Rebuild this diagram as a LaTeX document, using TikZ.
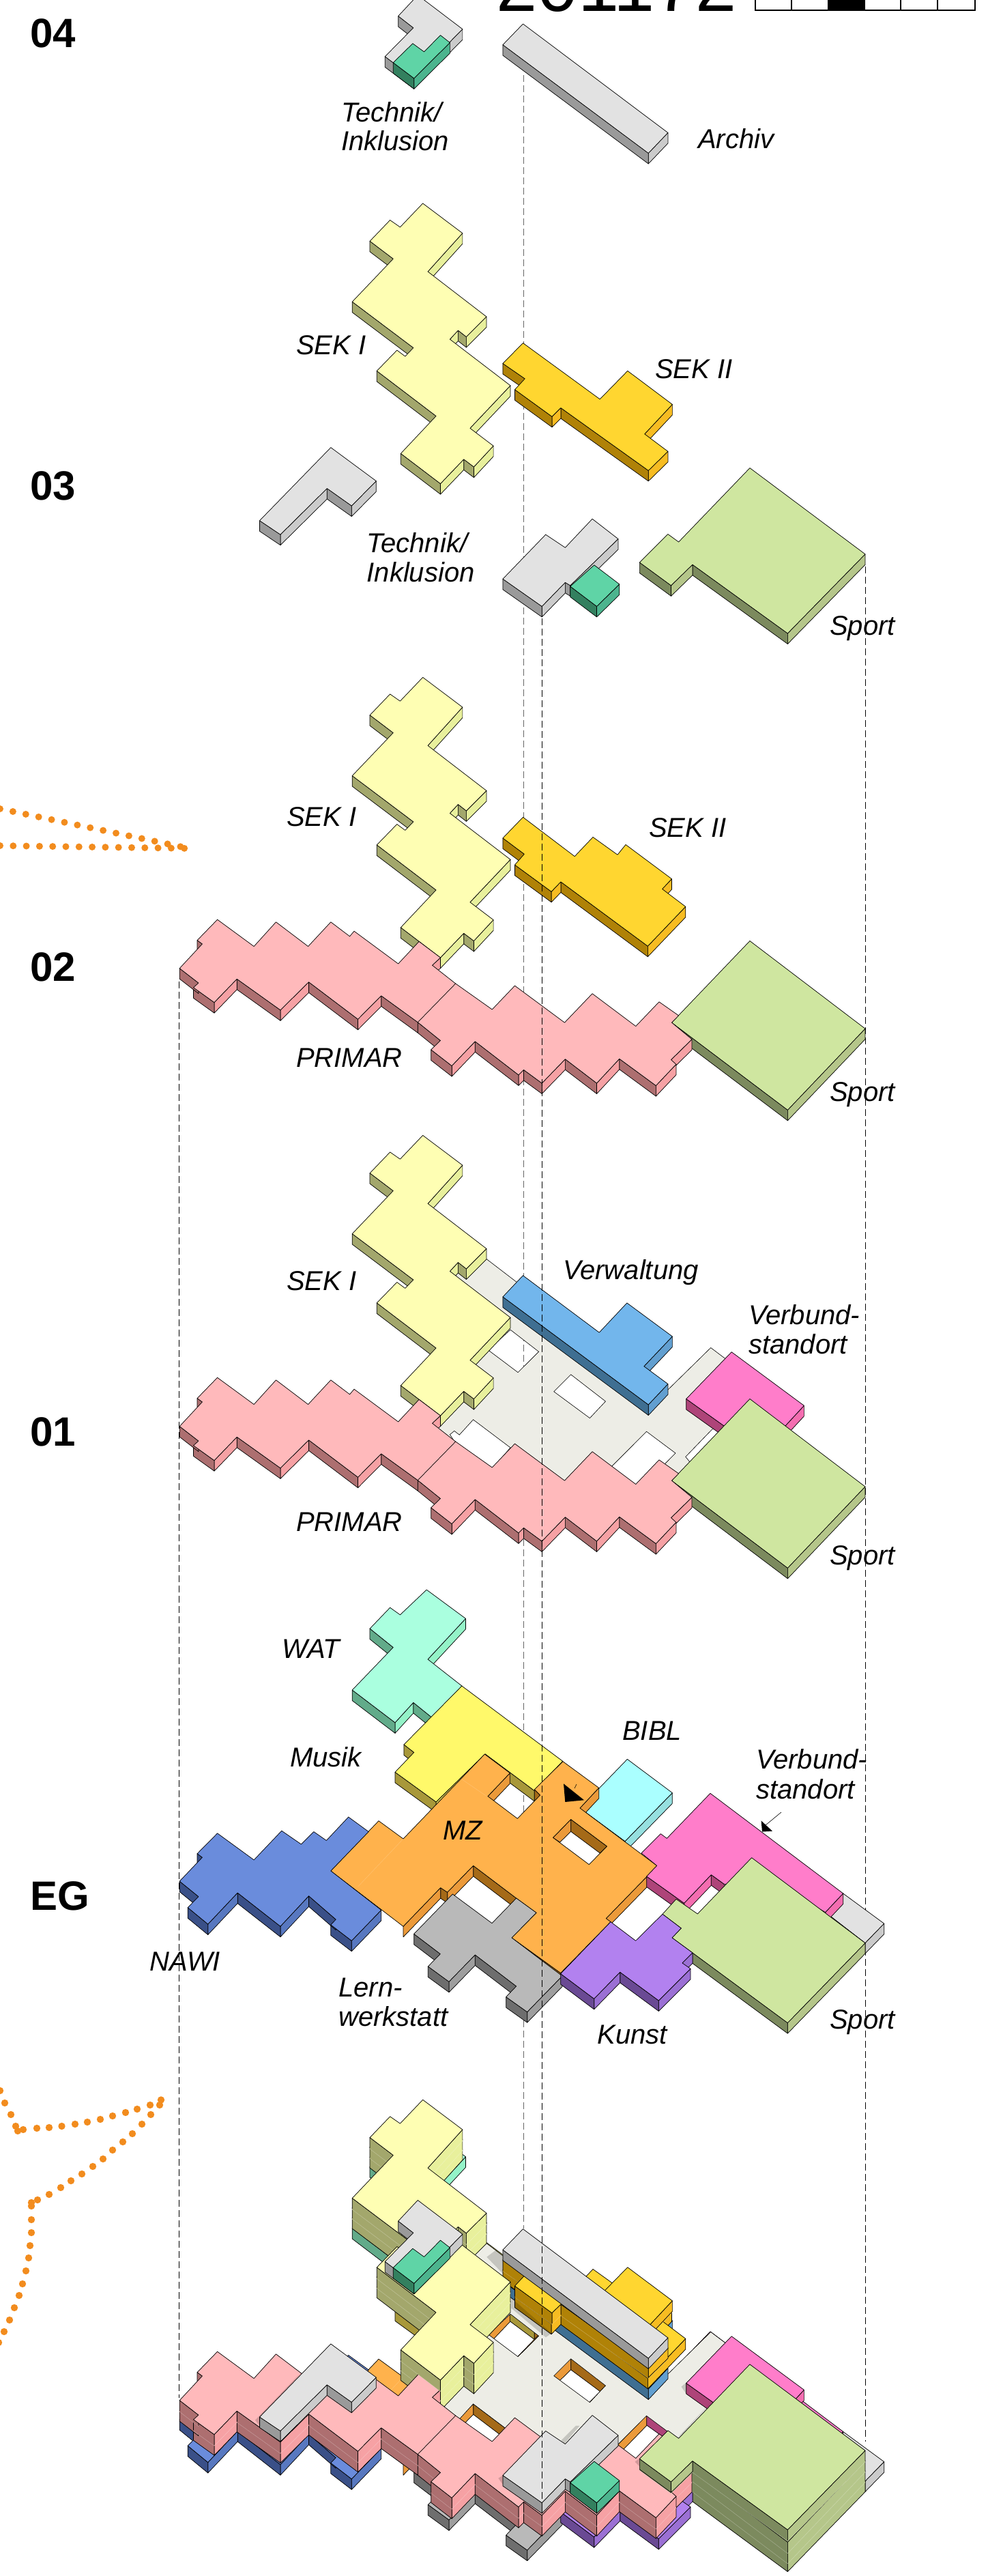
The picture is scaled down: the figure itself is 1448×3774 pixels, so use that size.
\documentclass[tikz,border=0pt]{standalone}
\usepackage{fontspec}
\setmainfont{Liberation Sans}
\definecolor{cgrey}{HTML}{E2E2E2}\definecolor{cgreyd}{HTML}{9A9A9A}\definecolor{cgreyl}{HTML}{CBCBCB}
\definecolor{cgrn}{HTML}{5FD4A6}\definecolor{cgrnd}{HTML}{33805F}\definecolor{cgrnl}{HTML}{4CB48E}
\definecolor{csek}{HTML}{FEFEB3}\definecolor{csekd}{HTML}{A3A76C}\definecolor{csekl}{HTML}{E8F09C}
\definecolor{csk}{HTML}{FFD630}\definecolor{cskd}{HTML}{B08207}\definecolor{cskl}{HTML}{F7BC22}
\definecolor{cspo}{HTML}{CFE6A0}\definecolor{cspod}{HTML}{7C8A5E}\definecolor{cspol}{HTML}{B5C68A}
\definecolor{cpri}{HTML}{FFB9BB}\definecolor{cprid}{HTML}{AD6F70}\definecolor{cpril}{HTML}{F6A1A4}
\definecolor{cver}{HTML}{72B6EC}\definecolor{cverd}{HTML}{3F6F92}\definecolor{cverl}{HTML}{629FD0}
\definecolor{cvb}{HTML}{FF7DCA}\definecolor{cvbd}{HTML}{AE4479}\definecolor{cvbl}{HTML}{F46DB0}
\definecolor{cslab}{HTML}{EDEDE6}
\definecolor{cwat}{HTML}{AAFFDF}\definecolor{cwatd}{HTML}{62AB8A}\definecolor{cwatl}{HTML}{94F3C8}
\definecolor{cmus}{HTML}{FFF96A}\definecolor{cmusd}{HTML}{A8983A}\definecolor{cmusl}{HTML}{E0D858}
\definecolor{cmz}{HTML}{FFB24C}\definecolor{cmzd}{HTML}{A56A18}\definecolor{cmzl}{HTML}{EB9A3A}
\definecolor{cbib}{HTML}{AAFFFF}\definecolor{cbibd}{HTML}{6FAFAF}\definecolor{cbibl}{HTML}{96E0E0}
\definecolor{cnaw}{HTML}{6A8CDC}\definecolor{cnawd}{HTML}{3A5088}\definecolor{cnawl}{HTML}{5878C0}
\definecolor{clrn}{HTML}{B9B9B9}\definecolor{clrnd}{HTML}{6E6E6E}\definecolor{clrnl}{HTML}{9E9E9E}
\definecolor{ckun}{HTML}{B281EF}\definecolor{ckund}{HTML}{6A4A94}\definecolor{ckunl}{HTML}{9B70D4}
\definecolor{cdot}{HTML}{F28C1E}
\def\dy{0}\def\hh{15.5}\def\hhx{16.7}\def\stk{0}
\tikzset{
 zA/.style={shift={(0pt,{(3774-#1-\dy)*1pt})},x=.9235pt,y=-.6378pt},
 zB/.style={shift={(0pt,{(3774-#1-\dy)*1pt})},x=.9235pt,y=-.4783pt},
 zC/.style={shift={(0pt,{(3774-#1-\dy)*1pt})},x=.9235pt,y=-.4464pt},
 zD/.style={shift={(0pt,{(3774-#1-\dy)*1pt})},x=.9235pt,y=-.4592pt},
 zT/.style={shift={(600pt,{(3774-2550-\dy)*1pt})},x=.33333pt,y=-.33333pt},
 bface/.style={draw=black,line width=.7pt,line join=round},
 seam/.style={draw=white,opacity=.3,line width=.5pt},
 shade/.style={fill=black,opacity=.17,draw=none},
 lab/.style={anchor=base west,inner sep=0pt,font=\fontsize{40}{44}\selectfont\itshape},
 lev/.style={anchor=base west,inner sep=0pt,font=\fontsize{60}{60}\selectfont\bfseries},
 guide/.style={draw=black,line width=.7pt,dash pattern=on 10pt off 5pt},
 guidegrey/.style={draw=black!60,line width=.6pt,dash pattern=on 10pt off 5pt},
 orangedots/.style={draw=cdot,line width=10pt,line cap=round,dash pattern=on 0pt off 19.3pt},
 dot/.style={fill=cdot,draw=none}
}
\def\grabfirst#1/#2,#3\relax{\gdef\fx{#1}\gdef\fy{#2}}
\newcommand{\wallquad}[1]{%
  \ifnum\stk=1
    \path[fill=#1] (\px,\py)--(\x,\y)--([yshift=-\hhx pt]\x,\y)--([yshift=-\hhx pt]\px,\py)--cycle;
    \path[bface] ([yshift=-\hh pt]\px,\py)--(\px,\py)--(\x,\y)--([yshift=-\hh pt]\x,\y);
    \path[seam] ([yshift=-\hhx pt]\px,\py)--([yshift=-\hhx pt]\x,\y);
  \else
    \path[bface,fill=#1] (\px,\py)--(\x,\y)--([yshift=-\hh pt]\x,\y)--([yshift=-\hh pt]\px,\py)--cycle;
  \fi}
% #1 holes, #2 clockwise outline, #3 top, #4 dark wall, #5 light wall. A third field 9999 = no wall on the edge ending there
\newcommand{\bldg}[5][]{%
  \grabfirst#2,\relax
  \gdef\pth{}%
  \foreach \x/\y/\s [count=\i, remember=\x as \px (initially 0), remember=\y as \py (initially 0)] in {#2,\fx/\fy} {%
    \xdef\pth{\pth(\x,\y)--}%
    \ifnum\i>1
      \ifdim\s pt=9999pt\else
        \ifdim\x pt<\px pt
          \ifdim\y pt>\py pt
            \wallquad{#5}%
          \else
            \wallquad{#4}%
          \fi
        \fi
      \fi
    \fi
  }%
  \path[bface,fill=#3,even odd rule] \pth cycle #1;
}
\newcommand{\sekI}[1]{\begin{scope}[zC=#1]
 \bldg{671/30,734/128,679/254,772/402,740/468,727/447,714/476,810/628,746/768,783/826,752/895,736/870,699/950,636/851,692/728,598/580,630/512,643/532,656/504,559/353,624/212,587/154,619/85,635/108}{csek}{csekd}{csekl}
\end{scope}}
\newcommand{\sportBox}[1]{\begin{scope}[zC=#1]
 \bldg{1190/895,1373/1183,1250/1450,1066/1163}{cspo}{cspod}{cspol}
\end{scope}}
\newcommand{\primar}[1]{\begin{scope}[zC=#1]
 \bldg{285/985,321/905,313/893,345/825,403/913,438/833,489/913,525/833,555/880,562/863,632/970,665/897,699/950,686/975,723/1035,781/1120,817/1042,896/1163,940/1068,1009/1175,1046/1095,1077/1140,1066/1163/9999,1098/1218,1065/1285,1073/1300,1041/1370,983/1282,947/1362,897/1283,860/1362,831/1318,823/1335,754/1225,717/1305,684/1252,699/1222,663/1162,605/1075,568/1152,490/1030,445/1122,376/1020,340/1097,307/1048,315/1033}{cpri}{cprid}{cpril}
 \path[bface] (723,1035)--(663,1162);
\end{scope}}
\newcommand{\levelFour}[1]{\def\dy{#1}\begin{scope}[zA=0]
 \bldg{663/-11,734/67,657/180,611/130,656/64,632/37}{cgrey}{cgreyd}{cgreyl}
 \bldg{655/100,673/119,699/81,714/98,657/180,624/144}{cgrn}{cgrnd}{cgrnl}
 \bldg{830/55,1060/305,1029/352,798/103}{cgrey}{cgreyd}{cgreyl}
\end{scope}}
% #2 = 1 in the stacked model: walls run on into the floor below
\newcommand{\levelThree}[2]{\def\dy{#1}\begin{scope}[zA=0]
 \bldg{525/1028,597/1105,558/1162,519/1122,445/1228,412/1196}{cgrey}{cgreyd}{cgreyl}
\end{scope}
{\def\stk{#2}\sekI{284.6}}
\begin{scope}[zA=0]
 {\def\stk{#2}\bldg{830/788,952/917,996/852,1067/929,1023/997,1060/1037,1029/1081,890/937,876/957,817/895,833/870,798/835}{csk}{cskd}{cskl}}
 \ifnum#2=1
  \path[bface] ([yshift=-\hh pt]1067,929)--([yshift=-\hh pt]1023,997) ([yshift=-\hh pt]1060,1037)--([yshift=-\hh pt]1029,1081);
 \fi
 \bldg{866/1228,897/1258,940/1192,981/1238,905/1345,897/1338,860/1393,798/1330}{cgrey}{cgreyd}{cgreyl}
 \bldg{943/1298,983/1342,947/1393,905/1347}{cgrn}{cgrnd}{cgrnl}
 {\def\stk{#2}\bldg{1190/1075,1373/1273,1250/1455,1099/1297,1065/1345,1015/1292,1060/1227,1077/1245}{cspo}{cspod}{cspol}}
 \ifnum#2=1
  \path[bface] ([yshift=-\hh pt]1099,1297)--([yshift=-\hh pt]1065,1345)--([yshift=-\hh pt]1015,1292);
 \fi
\end{scope}}
\newcommand{\levelTwo}[2]{\def\dy{#1}{\def\stk{#2}\sekI{979}}
\begin{scope}[zB=950]
 \bldg{830/517,912/637,941/578,980/632,993/601,1066/706,1051/737,1088/791,1028/912,890/715,875/745,817/663,832/630,798/581}{csk}{cskd}{cskl}
\end{scope}
{\def\stk{#2}\sportBox{979}\primar{979}}}
\newcommand{\levelOne}[2]{\def\dy{#1}\begin{scope}[zC=1650]
 \path[draw=black,line width=.6pt,fill=cslab,even odd rule]
  (715,490)--(740,385)--(1029,843)--(1060,865)--(1128,727)--(1180,808)--(1150,985)--(1130,995)--(1088,1085)--(1098,1110)--(1080,1180)--(1000,1220)--(760,1210)--(680,980)--(720,900)--cycle
  (810,668)--(855,740)--(822,808)--(775,735)--cycle
  (906,815)--(961,903)--(936,958)--(879,871)--cycle
  (751,963)--(810,1055)--(781,1125)--(723,1040)--(714,1012)--(721,1000)--(729,1013)--cycle
  (1026,1002)--(1072,1073)--(1009,1205)--(958,1143)--cycle;
\end{scope}
\sekI{1650}
\begin{scope}[zC=1650]
 \bldg{830/490,951/677,995/580,1067/690,1022/788,1060/846,1029/914,798/560}{cver}{cverd}{cverl}
 \bldg{1161/741,1276/917,1230/1020,1150/985/9999,1089/895}{cvb}{cvbd}{cvbl}
\end{scope}
{\def\stk{#2}\sportBox{1650}}\primar{1650}}
\newcommand{\levelEG}[1]{\def\dy{#1}\begin{scope}[zD=2330]
 \bldg{677/-2,739/90,679/220,733/305,685/405,656/358,627/422,559/318,624/182,587/122,619/55,635/78}{cwat}{cwatd}{cwatl}
 \bldg{1338/967,1403/1063,1373/1125,1310/1027}{cgrey}{cgreyd}{cgreyl}
\end{scope}
\begin{scope}[zT]
 \bldg{958/82,1156/230,948/443,750/297}{cbib}{cbibd}{cbibl}
\end{scope}
\begin{scope}[zD=2330]
 \bldg{733/305,893/545,848/639,770/522,692/675,627/580,657/517,641/492}{cmus}{cmusd}{cmusl}
\end{scope}
\begin{scope}[zT]
 \bldg[(710,347)--(868,465)--(790,545)--(632,427)--cycle]{-135/353,-27/432,331/60,442/143,345/245,475/343,575/240,550/215,675/92,833/208,750/297,1088/550,1045/597,865/782,885/797,665/1022,450/867,558/757,470/693,281/550,167/667,137/647,-27/817,-346/573/9999}{cmz}{cmzd}{cmzl}
 \path[bface,fill=cmzl] (632,427)--(710,347)--(710,400)--(662,447)--cycle;
 \path[bface,fill=cmzd] (710,347)--(868,465)--(838,495)--(710,400)--cycle;
 \path[draw=white,opacity=.2,line width=.5pt] (230,170)--(340,245) (-27,432)--(-226,642);
 \bldg{1105/410,1132/430,1323/232,1907/672,1829/755,1600/620/9999,1385/632/9999,1327/590,1208/715,1043/597,1088/550,1020/495/9999}{cvb}{cvbd}{cvbl}
 \bldg{1505/515,2004/890,1663/1241,1245/933,1155/867/9999,1195/825,1113/763/9999,1173/697,1267/762}{cspo}{cspod}{cspol}
\end{scope}
\begin{scope}[zD=2330]
 \bldg{285/928,321/852,313/840,345/775,403/860,447/767,478/810,498/770,518/798,553/723,585/770,525/895/9999,605/1020,558/1118,525/1067,533/1050,490/975,445/1072,377/965,330/1065,298/1012,315/977}{cnaw}{cnawd}{cnawl}
\end{scope}
\begin{scope}[zT]
 \bldg{190/675,363/803,470/693,558/757,450/867/9999,672/1035,518/1193,425/1127,470/1080,289/942,174/1060,82/993,136/938,20/850}{clrn}{clrnd}{clrnl}
 \bldg{885/797,995/880,1113/763,1195/825,1155/867/9999,1245/933,1200/978,1236/1003,1096/1143,926/1018,812/1135,665/1025}{ckun}{ckund}{ckunl}
\end{scope}}
\begin{document}
\begin{tikzpicture}[x=1pt,y=1pt]
\useasboundingbox (0,0) rectangle (1448,3774);
\clip (0,0) rectangle (1448,3774);
\fill[white] (0,0) rectangle (1448,3774);
% guides behind the shapes
\draw[guidegrey] (767,3664) -- (767,509);
\draw[guide] (262.3,2336) -- (262.3,261);
\draw[guide] (1268,2944) -- (1268,197);
% orange dotted lines
\draw[orangedots] (0,2589) -- (277,2531);
\draw[orangedots] (0,2535) -- (277,2531);
\foreach \a/\b in {0/3063,7/3081,16/3098,23/3115,26/3122,34/3120,54/3118,72/3117,90.5/3115,110/3112,128/3109,147/3105,165/3100,184/3095,201/3090,220/3084,236/3076.5,234/3084,221/3098,208/3112,194/3126,180/3138,165/3150,151/3163,136/3174,120/3185,104/3195,89/3205,72/3215,55/3223,46/3227,46/3232,46/3252,46/3271,44/3290,42/3308,38/3327,33/3346,28/3363,21/3381,14/3399,6/3416,-2/3432}
  \fill[dot] (\a,3774-\b) circle (5.2);
% title and scale bar
\node[anchor=base west,inner sep=0pt,font=\fontsize{108}{108}\selectfont] (title) at (727,3757.5) {201172};
\draw[black,line width=2pt] (1106.5,3800) -- (1106.5,3759) -- (1428.5,3759) -- (1428.5,3800);
\fill[black] (1213,3759) rectangle (1268,3800);
\draw[black,line width=2pt] (1160.4,3759)--(1160.4,3800) (1320,3759)--(1320,3800) (1374,3759)--(1374,3800);
% exploded floors
\levelFour{0}
\levelThree{0}{0}
\levelTwo{0}{0}
\levelOne{0}{0}
\levelEG{0}
% stacked model
\levelEG{788.5}
\levelOne{1442}{1}
\levelTwo{2098}{1}
\levelThree{2778.3}{1}
\levelFour{3230.5}
% soft shadows on the stacked model
\begin{scope}[shift={(500pt,{(3774-3150)*1pt})},x=.33333pt,y=-.33333pt]
 \path[shade] (640,470)--(680,440)--(713,465)--(713,545)--cycle;
 \path[shade] (748,650)--(748,695)--(900,823)--(925,805)--cycle;
\end{scope}
\begin{scope}[shift={(250pt,{(3774-3400)*1pt})},x=.33333pt,y=-.33333pt]
 \path[shade] (393,423)--(577,228)--(556,246)--(372,437)--(393,463)--cycle;
 \path[shade] (1462,680)--(1441,692)--(1462,722)--cycle;
\end{scope}
\begin{scope}[shift={(700pt,{(3774-3400)*1pt})},x=.39541pt,y=-.33333pt]
 \path[shade] (775,270)--(755,290)--(775,325)--cycle;
 \path[shade] (866,358)--(846,382)--(742,513)--(758,498)--cycle;
 \path[shade] (322,540)--(378,462)--(364,462)--(310,526)--cycle;
 \path[shade] (600,605)--(583,620)--(600,640)--cycle;
\end{scope}
% guide in front
\draw[guide] (794.3,2868) -- (794.3,107);
% pointers
\coordinate (mzp) at (842,1154);
\coordinate (mzq) at (845,1160);
\draw[black,line width=.6pt] (mzp) -- (mzq);
\fill[black] (826,1160.7) -- (856,1136.7) -- (828.3,1134) -- cycle;
\coordinate (vba) at (1145,1119);
\coordinate (vbb) at (1122,1100);
\draw[black,line width=.6pt] (vba) -- (vbb);
\fill[black] (1115.6,1106.5) -- (1132,1091.3) -- (1117,1090.4) -- cycle;
% level labels
\node[lev] (l04) at (44,3704) {04};
\node[lev] (l03) at (44,3041) {03};
\node[lev] (l02) at (44,2336) {02};
\node[lev] (l01) at (44,1655) {01};
\node[lev] (lEG) at (44,975) {EG};
% labels
\node[lab] (a1) at (500,3595.4) {Technik/};
\node[lab] (a2) at (500,3553) {Inklusion};
\node[lab] (a3) at (1023,3556) {Archiv};
\node[lab] (b1) at (434,3254) {SEK I};
\node[lab] (b2) at (960,3219) {SEK II};
\node[lab] (b3) at (537.5,2964) {Technik/};
\node[lab] (b4) at (537.5,2921) {Inklusion};
\node[lab] (b5) at (1216,2843) {Sport};
\node[lab] (c1) at (420,2563.3) {SEK I};
\node[lab] (c2) at (951,2547.5) {SEK II};
\node[lab] (c3) at (434,2210.4) {PRIMAR};
\node[lab] (c4) at (1216,2160) {Sport};
\node[lab] (d1) at (420,1883) {SEK I};
\node[lab] (d2) at (825,1899.5) {Verwaltung};
\node[lab] (d3) at (1097,1833) {Verbund-};
\node[lab] (d4) at (1097,1790) {standort};
\node[lab] (d5) at (434,1530) {PRIMAR};
\node[lab] (d6) at (1216,1481) {Sport};
\node[lab] (e1) at (413,1344) {WAT};
\node[lab] (e2) at (425,1185.5) {Musik};
\node[lab] (e3) at (912,1224) {BIBL};
\node[lab] (e4) at (1108,1182) {Verbund-};
\node[lab] (e5) at (1108,1138) {standort};
\node[lab] (e6) at (649,1078) {MZ};
\node[lab] (e7) at (219,886) {NAWI};
\node[lab] (e8) at (496,848) {Lern-};
\node[lab] (e9) at (496,805) {werkstatt};
\node[lab] (e10) at (875.5,779) {Kunst};
\node[lab] (e11) at (1216,801) {Sport};
\end{tikzpicture}
\end{document}
